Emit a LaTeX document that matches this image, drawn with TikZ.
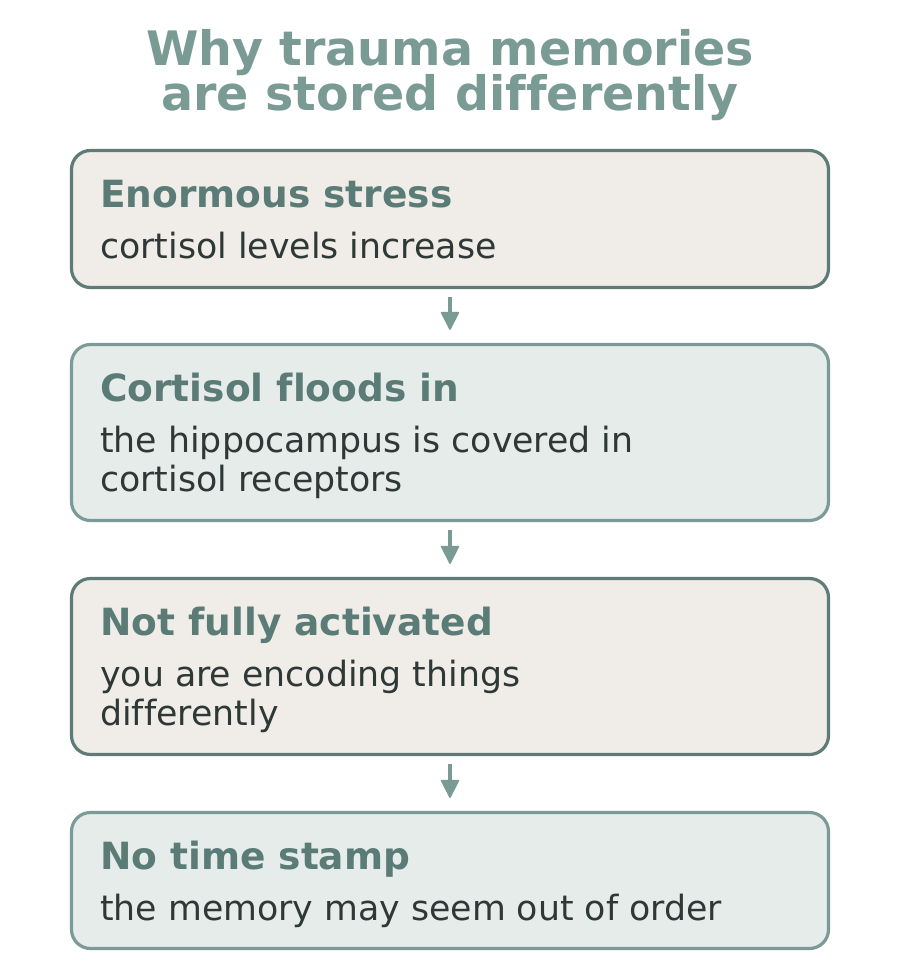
\documentclass[tikz,border=0pt]{standalone}
\usepackage{fontspec}
\setmainfont{DejaVu Sans}[Ligatures={NoCommon}]
\usetikzlibrary{arrows.meta}
\definecolor{titlec}{HTML}{7A9A94}
\definecolor{headc}{HTML}{5B7C76}
\definecolor{bodyc}{HTML}{2E3836}
\definecolor{fillA}{HTML}{F0EDE9}
\definecolor{drawA}{HTML}{5E7B76}
\definecolor{fillB}{HTML}{E6ECEA}
\definecolor{drawB}{HTML}{7C9B96}
\definecolor{arrc}{HTML}{7A9A94}
\tikzset{
  boxA/.style={draw=drawA, fill=fillA, line width=3.2pt, rounded corners=19pt, minimum width=757pt, inner sep=0pt},
  boxB/.style={draw=drawB, fill=fillB, line width=3.2pt, rounded corners=19pt, minimum width=757pt, inner sep=0pt},
  titletxt/.style={anchor=base, inner sep=0pt, text=titlec, font=\fontsize{47.5}{47.5}\selectfont\bfseries},
  headtxt/.style={anchor=base west, inner sep=0pt, text=headc, font=\fontsize{37.5}{37.5}\selectfont\bfseries},
  bodytxt/.style={anchor=base west, inner sep=0pt, text=bodyc, font=\fontsize{34.75}{34.75}\selectfont},
  arr/.style={draw=arrc, line width=4.5pt, -{Triangle[length=19pt,width=19pt,line join=round,line width=1.5pt]}}
}
\begin{document}
\begin{tikzpicture}[x=1pt,y=1pt]
\useasboundingbox (0,0) rectangle (900,-977);
\node[titletxt] (t1) at (450,-65) {Why trauma memories};
\node[titletxt] (t2) at (450,-110) {are stored differently};

\node[boxA, minimum height=137pt] (b1) at (450,-219) {};
\node[boxB, minimum height=176pt] (b2) at (450,-432.5) {};
\node[boxA, minimum height=176pt] (b3) at (450,-666.5) {};
\node[boxB, minimum height=136pt] (b4) at (450,-880.5) {};

\node[headtxt] (h1) at (100,-207) {Enormous stress};
\node[bodytxt] (d1) at (100,-258) {cortisol levels increase};

\node[headtxt] (h2) at (100,-401) {Cortisol floods in};
\node[bodytxt] (d2a) at (100,-452) {the hippocampus is covered in};
\node[bodytxt] (d2b) at (100,-491) {cortisol receptors};

\node[headtxt] (h3) at (100,-635) {Not fully activated};
\node[bodytxt] (d3a) at (100,-686) {you are encoding things};
\node[bodytxt] (d3b) at (100,-725) {differently};

\node[headtxt] (h4) at (100,-869) {No time stamp};
\node[bodytxt] (d4) at (100,-920) {the memory may seem out of order};

\draw[arr, shorten <=8pt, shorten >=13pt] (b1) -- (b2);
\draw[arr, shorten <=8pt, shorten >=13pt] (b2) -- (b3);
\draw[arr, shorten <=8pt, shorten >=13pt] (b3) -- (b4);
\end{tikzpicture}
\end{document}
